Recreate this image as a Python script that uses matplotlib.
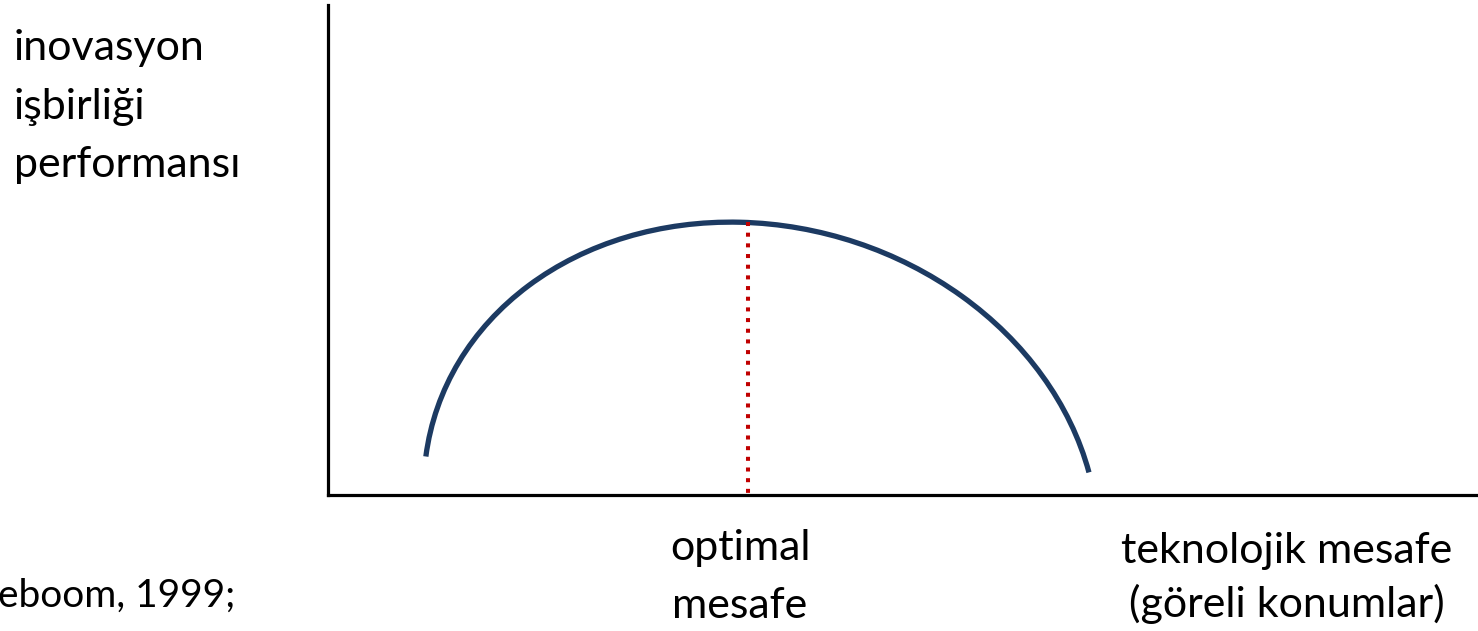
import matplotlib
matplotlib.use("Agg")
import matplotlib.pyplot as plt
from matplotlib.patches import Arc

# arc (x = technological distance, y = performance)
arc_center = (4.33, -0.20)
arc_width = 6.82
arc_height = 5.77
arc_angle = -16.1
arc_theta = (23.5, 186.2)
optimal_x = 4.20
optimal_y = 2.73

y_label = ["inovasyon", "işbirliği", "performansı"]
x_label = ["teknolojik mesafe", "(göreli konumlar)"]
optimal_label = ["optimal", "mesafe"]
source_text = "eboom, 1999;"

W, H = 1478, 631
fig = plt.figure(figsize=(W / 100, H / 100), dpi=100)
ax = fig.add_axes([328 / W, 1 - 495 / H, (W - 328) / W, 490 / H])
ax.set_xlim(0, 11.5)
ax.set_ylim(0, 4.9)
ax.set_xticks([])
ax.set_yticks([])
for s in ["top", "right"]:
    ax.spines[s].set_visible(False)
for s in ["left", "bottom"]:
    ax.spines[s].set_linewidth(2.3)
    ax.spines[s].set_color("black")
    ax.spines[s].set_capstyle("projecting")

ax.add_patch(Arc(arc_center, arc_width, arc_height, angle=arc_angle,
                 theta1=arc_theta[0], theta2=arc_theta[1],
                 color="#1C3A62", lw=3.8, clip_on=False))
ax.plot([optimal_x, optimal_x], [optimal_y, -0.02], color="#C00000", lw=2.9,
        linestyle=(0, (1.0, 1.65)), clip_on=False)

font = "Lato"
fs = 31


def ftext(px, py, s, size=fs, **kw):
    fig.text(px / W, 1 - py / H, s, fontsize=size, family=font, va="baseline", **kw)


for i, line in enumerate(y_label):
    ftext(14, 60 + i * 58.5, line, ha="left")
for i, line in enumerate(optimal_label):
    ftext(740, 560 + i * 58, line, ha="center")
for i, line in enumerate(x_label):
    ftext(1287, 563 + i * 54, line, ha="center")
ftext(-2, 607, source_text, size=28, ha="left")

fig.savefig("out.png", dpi=100)
